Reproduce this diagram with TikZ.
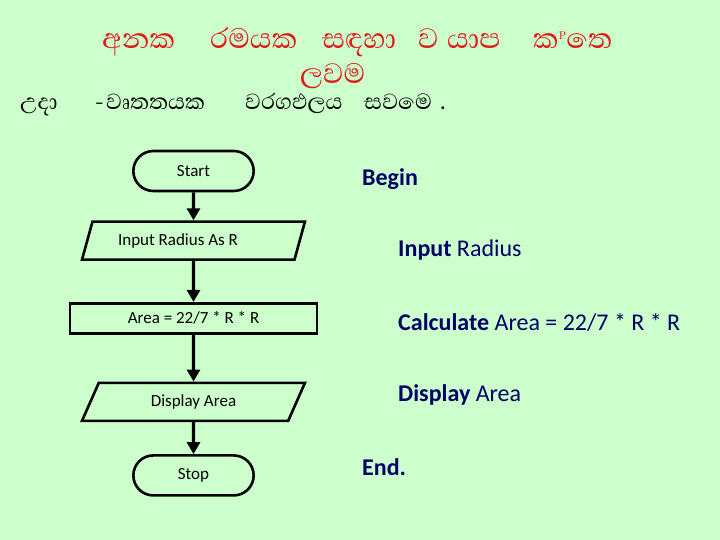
\documentclass[tikz,border=0pt]{standalone}
\usepackage{fontspec}
\setmainfont{Carlito}
\newfontfamily\sinhalafont[Script=Sinhala]{Abhaya Libre}
\usepackage{xcolor}
\usetikzlibrary{arrows.meta, positioning, shapes.geometric, shapes.misc}

\definecolor{bgcol}{HTML}{CCFFCC}
\definecolor{titlered}{HTML}{E01B1B}
\definecolor{navytext}{HTML}{000066}

\begin{document}
\begin{tikzpicture}[
  x=1pt, y=-1pt,
  terminal/.style={rounded rectangle, draw, line width=2.6pt, minimum width=127pt, minimum height=40pt, font=\fontsize{17}{20}\selectfont},
  iobox/.style={trapezium, trapezium left angle=69, trapezium right angle=111, trapezium stretches=true, draw, line width=2.6pt, minimum width=223pt, minimum height=38pt, font=\fontsize{17}{20}\selectfont},
  procbox/.style={rectangle, draw, line width=2.6pt, minimum width=247pt, minimum height=30pt, font=\fontsize{17}{20}\selectfont},
  flowarrow/.style={-{Triangle[width=13pt, length=12pt]}, line width=3.4pt},
  titleword/.style={anchor=base west, inner sep=0pt, text height=22pt, text depth=2pt, text=titlered, font=\sinhalafont\fontsize{36}{40}\selectfont},
  subword/.style={anchor=base west, inner sep=0pt, text height=16pt, text depth=2pt, font=\sinhalafont\fontsize{28}{32}\selectfont},
  steptext/.style={anchor=west, inner sep=0pt, text=navytext, font=\fontsize{24}{28}\selectfont},
]
  \fill[bgcol] (0,0) rectangle (720,540);
  \useasboundingbox (0,0) rectangle (720,540);

  % heading
  \node[titleword] (t1) at (102,49) {අනක};
  \node[titleword] (t2) at (210,49) {රමයක};
  \node[titleword] (t3) at (322,49) {සඳහා};
  \node[titleword] (t4) at (418,49) {ව};
  \node[titleword] (t5) at (447,49) {යාප};
  \node[titleword] (t6) at (533,49) {ක\textsuperscript{\fontsize{13}{14}\selectfont P}තෙ};
  \node[titleword] (t7) at (300,84) {ලවම};

  \node[subword] (s1) at (20,110) {උදා};
  \node[subword] (s2) at (95,110) {-};
  \node[subword] (s3) at (106,110) {වෘතතයක};
  \node[subword] (s4) at (245,110) {වරගඵලය};
  \node[subword] (s5) at (364,110) {සවමෙ};
  \node[subword] (s6) at (440,110) {.};

  % flowchart
  \node[terminal] (start) at (193.5,171) {Start};
  \node[iobox, below=28pt of start] (input) {Input Radius As R\kern31pt};
  \node[procbox, below=41pt of input] (area) {Area = 22/7 * R * R};
  \node[iobox, below=47pt of area] (display) {Display Area};
  \node[terminal, below=32pt of display] (stop) {Stop};

  \draw[flowarrow] (start) -- (input);
  \draw[flowarrow] (input) -- (area);
  \draw[flowarrow] (area) -- (display);
  \draw[flowarrow] (display) -- (stop);

  % pseudocode
  \node[steptext] (begin) at (362,179) {\textbf{Begin}};
  \node[steptext] (readr) at (398,250) {\textbf{Input} Radius};
  \node[steptext] (calc) at (398,322) {\textbf{Calculate} Area = 22/7 * R * R};
  \node[steptext] (show) at (398,395) {\textbf{Display} Area};
  \node[steptext] (finish) at (362,467) {\textbf{End.}};
\end{tikzpicture}
\end{document}
